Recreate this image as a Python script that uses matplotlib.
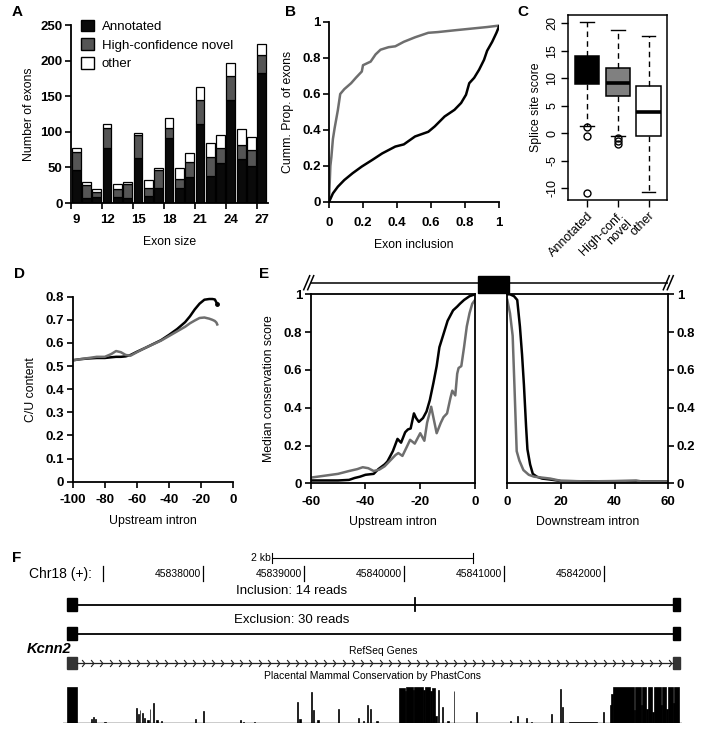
import matplotlib
matplotlib.use('Agg')
import matplotlib.pyplot as plt
import numpy as np
from matplotlib.patches import Patch, Rectangle
from matplotlib.path import Path

plt.rcParams['font.family'] = ['Liberation Sans', 'DejaVu Sans']
plt.rcParams['axes.unicode_minus'] = False

# ---------------- data ----------------
# Panel A
exon_sizes = list(range(9, 28))
annotated = [47, 7, 9, 77, 8, 7, 63, 10, 21, 91, 21, 36, 111, 38, 56, 144, 62, 52, 182]
hc_novel = [24, 18, 7, 28, 11, 19, 32, 11, 25, 15, 13, 21, 33, 26, 21, 34, 20, 22, 26]
other = [6, 4, 3, 6, 7, 4, 4, 11, 3, 14, 15, 13, 19, 20, 18, 18, 22, 18, 16]
legend_labels = ['Annotated', 'High-confidence novel', 'other']

# Panel B
b_hc_x = [0, 0.004, 0.008, 0.014, 0.023, 0.033, 0.052, 0.066, 0.09, 0.13, 0.158, 0.193, 0.2,
          0.245, 0.274, 0.303, 0.35, 0.39, 0.44, 0.506, 0.584, 0.64, 0.74, 0.835, 0.93, 1.0]
b_hc_y = [0, 0.1, 0.2, 0.25, 0.35, 0.41, 0.51, 0.6, 0.627, 0.66, 0.69, 0.725, 0.76,
          0.78, 0.82, 0.846, 0.86, 0.865, 0.89, 0.915, 0.94, 0.944, 0.954, 0.963, 0.972, 0.98]
b_ann_x = [0, 0.023, 0.052, 0.09, 0.139, 0.193, 0.255, 0.313, 0.39, 0.44, 0.506, 0.584, 0.622,
           0.68, 0.738, 0.777, 0.806, 0.825, 0.854, 0.883, 0.912, 0.93, 0.96, 0.985, 1.0]
b_ann_y = [0, 0.048, 0.085, 0.122, 0.16, 0.197, 0.234, 0.27, 0.308, 0.32, 0.364, 0.39, 0.42,
           0.475, 0.512, 0.55, 0.596, 0.66, 0.69, 0.735, 0.79, 0.84, 0.89, 0.94, 0.975]

# Panel C (box statistics)
c_labels = ['Annotated', 'High-conf.\nnovel', 'other']
c_q1 = [8.9, 6.7, -0.5]
c_med = [11.8, 9.1, 3.8]
c_q3 = [14.1, 11.8, 8.6]
c_whislo = [1.4, -0.4, -10.6]
c_whishi = [20.2, 18.7, 17.7]
c_fliers = [[1.2, -0.5, -10.9], [-0.9, -1.4, -1.9], []]
c_colors = ['#000000', '#808080', '#ffffff']

# Panel D
d_x = [-100, -95, -90, -85, -80, -76, -73, -70, -67, -64, -60, -55, -50, -45, -40, -35, -30,
       -27, -24, -21, -18, -15, -13, -11.5, -10.5, -10]
d_ann = [0.525, 0.53, 0.533, 0.535, 0.535, 0.538, 0.54, 0.54, 0.542, 0.548, 0.562, 0.578, 0.595,
         0.612, 0.635, 0.66, 0.69, 0.715, 0.745, 0.77, 0.787, 0.79, 0.79, 0.788, 0.775, 0.77]
d_hc = [0.525, 0.53, 0.535, 0.54, 0.54, 0.552, 0.565, 0.56, 0.548, 0.545, 0.56, 0.578, 0.594,
        0.61, 0.63, 0.65, 0.67, 0.685, 0.697, 0.708, 0.71, 0.705, 0.70, 0.695, 0.688, 0.68]

# Panel E
e_up_ann_x = [-60, -50, -46, -44, -42, -40, -37, -35.3, -33, -32, -30, -28.3, -27, -25.5, -24.5,
              -23.5, -22.3, -21.5, -20.5, -19, -17.7, -16.5, -15.2, -14, -13, -11.6, -10, -8,
              -6.5, -5.5, -4, -2, 0]
e_up_ann_y = [0.015, 0.015, 0.018, 0.028, 0.035, 0.045, 0.05, 0.075, 0.1, 0.115, 0.17, 0.235,
              0.215, 0.27, 0.285, 0.29, 0.37, 0.345, 0.325, 0.345, 0.38, 0.44, 0.53, 0.62, 0.72,
              0.785, 0.86, 0.915, 0.935, 0.95, 0.97, 0.99, 1.0]
e_up_hc_x = [-60, -55, -50, -46, -43, -41, -39, -37, -35, -33, -31, -29, -28, -26.5, -25, -23.7,
             -22, -20, -18.5, -17.5, -16, -14.5, -14, -12.5, -11.5, -10.2, -9, -8.3, -7.2, -6.5,
             -6, -5, -4, -3, -2, -1, 0]
e_up_hc_y = [0.03, 0.04, 0.05, 0.065, 0.075, 0.085, 0.08, 0.065, 0.072, 0.09, 0.12, 0.15, 0.16,
             0.145, 0.19, 0.23, 0.21, 0.265, 0.225, 0.32, 0.405, 0.3, 0.265, 0.32, 0.35, 0.37,
             0.45, 0.49, 0.465, 0.58, 0.61, 0.62, 0.72, 0.83, 0.9, 0.95, 0.97]
e_dn_ann_x = [0, 1, 2.5, 3.7, 4.7, 5.5, 6.2, 7, 7.5, 8.5, 9.5, 11, 13, 16, 20, 30, 40, 50, 60]
e_dn_ann_y = [1.0, 1.0, 0.99, 0.97, 0.83, 0.68, 0.52, 0.3, 0.18, 0.1, 0.05, 0.035, 0.025, 0.02,
              0.012, 0.01, 0.01, 0.01, 0.01]
e_dn_hc_x = [0, 1, 2, 2.7, 3.5, 4.5, 6, 8, 10, 13, 16, 20, 30, 40, 48, 50, 60]
e_dn_hc_y = [0.97, 0.9, 0.78, 0.5, 0.17, 0.12, 0.07, 0.045, 0.035, 0.03, 0.025, 0.013, 0.01,
             0.012, 0.015, 0.01, 0.01]

# Panel F (genome browser view)
f_ruler = [45837000, 45838000, 45839000, 45840000, 45841000, 45842000]
f_ruler_labels = ['', '45838000', '45839000', '45840000', '45841000', '45842000']
f_scale_start, f_scale_len = 45838690, 2000
f_exon1 = (45836640, 45836735)
f_exon3 = (45842686, 45842756)
f_alt_exon = 45840114
f_view = (45836600, 45842776)
cons_start = [45836640, 45836875, 45836898, 45836921, 45837011,
              45837328, 45837346, 45837364, 45837387, 45837410, 45837441, 45837464, 45837500,
              45837532, 45837577, 45837917, 45837998, 45838369, 45838392, 45838505,
              45838935, 45838958, 45839071, 45839094, 45839139, 45839343,
              45839546, 45839592, 45839637, 45839660, 45839727,
              45839954, 45840008, 45840022, 45840090, 45840103, 45840194, 45840212, 45840257,
              45840280, 45840316, 45840339, 45840384, 45840429, 45840497,
              45840723, 45841063, 45841131, 45841221, 45841267,
              45841470, 45841561, 45841583, 45841651, 45841991,
              45842059, 45842072, 45842091, 45842294, 45842308, 45842362, 45842376, 45842421,
              45842435, 45842480, 45842494, 45842561, 45842575, 45842620, 45842633, 45842688,
              45842701]
cons_len = [95, 14, 9, 9, 14,
            9, 9, 9, 9, 9, 14, 9, 9,
            14, 14, 9, 9, 9, 14, 14,
            9, 14, 9, 9, 14, 9,
            9, 14, 9, 9, 14,
            54, 14, 68, 14, 91, 18, 45, 23,
            27, 14, 9, 9, 23, 9,
            9, 9, 9, 9, 14,
            9, 9, 9, 272, 9,
            14, 18, 204, 14, 54, 14, 45, 14,
            45, 14, 68, 14, 45, 14, 54, 14,
            46]
cons_h = [1.0, 0.12, 0.18, 0.1, 0.03,
          0.42, 0.25, 0.35, 0.28, 0.15, 0.08, 0.4, 0.55,
          0.08, 0.05, 0.1, 0.33, 0.08, 0.04, 0.03,
          0.58, 0.12, 0.87, 0.35, 0.08, 0.4,
          0.15, 0.05, 0.5, 0.4, 0.05,
          0.98, 0.9, 1.0, 0.93, 1.0, 0.92, 1.0, 0.9,
          0.98, 0.2, 0.93, 0.45, 0.05, 0.88,
          0.3, 0.05, 0.2, 0.15, 0.04,
          0.25, 0.95, 0.45, 0.02, 0.3,
          0.5, 0.8, 1.0, 0.35, 1.0, 0.5, 1.0, 0.4,
          1.0, 0.3, 1.0, 0.5, 1.0, 0.4, 1.0, 0.55,
          1.0]

# ---------------- figure ----------------
W, H = 710, 732
fig = plt.figure(figsize=(W / 100, H / 100), dpi=100)


def rect(x0, y0, x1, y1):
    return [x0 / W, 1 - y1 / H, (x1 - x0) / W, (y1 - y0) / H]


TICK_FS = 9.5
LAB_FS = 8.8
DARK = '#000000'
GREY = '#6e6e6e'


def excel_style(ax, spines=('left', 'bottom')):
    for s in ['left', 'right', 'top', 'bottom']:
        ax.spines[s].set_visible(s in spines)
        ax.spines[s].set_linewidth(1.3)
    ax.tick_params(direction='out', length=4, width=1.2, labelsize=TICK_FS, pad=2)
    ax.tick_params(axis='x', pad=5)
    for lab in ax.get_xticklabels() + ax.get_yticklabels():
        lab.set_fontweight('bold')


def fmt(v):
    return '%g' % v


def panel_letter(x, y, t):
    fig.text(x / W, 1 - y / H, t, fontsize=11, fontweight='bold', ha='left', va='center')


# ----- Panel A -----
axA = fig.add_axes(rect(71, 25, 268, 203))
ann_arr = np.array(annotated)
hc_arr = np.array(hc_novel)
axA.bar(exon_sizes, annotated, width=0.85, color='#0a0a0a', edgecolor='black', lw=0.9)
axA.bar(exon_sizes, hc_novel, bottom=ann_arr, width=0.85, color='#555555', edgecolor='black', lw=0.9)
axA.bar(exon_sizes, other, bottom=ann_arr + hc_arr, width=0.85, color='white', edgecolor='black', lw=0.9)
axA.set_xlim(8.5, 27.6)
axA.set_ylim(0, 250)
axA.set_yticks(range(0, 251, 50))
axA.set_xticks(exon_sizes[::3])
axA.set_xticks([s - 0.5 for s in exon_sizes[::3]], minor=True)
excel_style(axA)
axA.tick_params(axis='x', which='major', length=0, pad=8)
axA.tick_params(axis='x', which='minor', length=4, width=1.2, direction='out')
axA.set_xlabel('Exon size', fontsize=LAB_FS, labelpad=7)
axA.set_ylabel('Number of exons', fontsize=LAB_FS, labelpad=4)
handles = [Patch(facecolor=c, edgecolor='black', lw=1) for c in ['#0a0a0a', '#555555', 'white']]
axA.legend(handles, legend_labels, loc='upper left', bbox_to_anchor=(0.05, 1.03), frameon=False,
           fontsize=9.5, handlelength=1.0, handleheight=1.0, handletextpad=0.6,
           labelspacing=0.4, borderpad=0, borderaxespad=0)
panel_letter(12, 12, 'A')

# ----- Panel B -----
axB = fig.add_axes(rect(329, 22, 499, 202))
axB.plot(b_hc_x, b_hc_y, color=GREY, lw=1.8)
axB.plot(b_ann_x, b_ann_y, color=DARK, lw=1.8)
axB.set_xlim(0, 1)
axB.set_ylim(0, 1)
ticks = [0, 0.2, 0.4, 0.6, 0.8, 1]
axB.set_xticks(ticks)
axB.set_xticklabels([fmt(t) for t in ticks])
axB.set_yticks(ticks)
axB.set_yticklabels([fmt(t) for t in ticks])
excel_style(axB)
axB.tick_params(axis='x', pad=7)
axB.set_xlabel('Exon inclusion', fontsize=LAB_FS, labelpad=7)
axB.set_ylabel('Cumm. Prop. of exons', fontsize=LAB_FS, labelpad=6)
panel_letter(285, 12, 'B')

# ----- Panel C -----
axC = fig.add_axes(rect(568, 15, 667, 200))
stats = []
for i in range(3):
    stats.append(dict(q1=c_q1[i], med=c_med[i], q3=c_q3[i], whislo=c_whislo[i],
                      whishi=c_whishi[i], fliers=c_fliers[i], label=c_labels[i]))
bp = axC.bxp(stats, positions=[1, 2, 3], widths=0.8, patch_artist=True, showfliers=True,
             boxprops=dict(edgecolor='black', lw=1.1),
             whiskerprops=dict(color='black', lw=1.0, linestyle=(0, (4, 3))),
             capprops=dict(color='black', lw=1.0),
             medianprops=dict(color='black', lw=2.6, solid_capstyle='butt'),
             flierprops=dict(marker='o', markerfacecolor='none', markeredgecolor='black',
                             markersize=5, markeredgewidth=1.0),
             capwidths=0.45)
for patch, col in zip(bp['boxes'], c_colors):
    patch.set_facecolor(col)
axC.set_xlim(0.38, 3.6)
axC.set_ylim(-12.1, 21.5)
axC.set_yticks(range(-10, 21, 5))
for s in axC.spines.values():
    s.set_linewidth(1.1)
axC.tick_params(direction='out', length=5, width=1.0, labelsize=9, pad=2)
for lab in axC.get_yticklabels():
    lab.set_rotation(90)
    lab.set_va('center')
axC.set_xticks([1, 2, 3])
axC.set_xticklabels(c_labels, rotation=45, ha='right', rotation_mode='anchor',
                    multialignment='right', fontsize=9, linespacing=0.95)
axC.set_ylabel('Splice site score', fontsize=LAB_FS, labelpad=3)
panel_letter(517, 12, 'C')

# ----- Panel D -----
axD = fig.add_axes(rect(72.7, 296.7, 233.3, 481.7))
axD.plot(d_x, d_ann, color=DARK, lw=1.8)
axD.plot(d_x, d_hc, color=GREY, lw=1.8)
axD.plot(d_x[-1:], d_ann[-1:], marker='o', color=DARK, ms=2.5)
axD.set_xlim(-100, 0)
axD.set_ylim(0, 0.8)
axD.set_xticks(range(-100, 1, 20))
yt = [0, 0.1, 0.2, 0.3, 0.4, 0.5, 0.6, 0.7, 0.8]
axD.set_yticks(yt)
axD.set_yticklabels([fmt(t) for t in yt])
excel_style(axD)
axD.set_xlabel('Upstream intron', fontsize=LAB_FS, labelpad=6)
axD.set_ylabel('C/U content', fontsize=LAB_FS, labelpad=6)
panel_letter(14, 274, 'D')

# ----- Panel E -----
axE1 = fig.add_axes(rect(310.7, 294.3, 475, 483.3))
axE1.plot(e_up_ann_x, e_up_ann_y, color=DARK, lw=1.8)
axE1.plot(e_up_hc_x, e_up_hc_y, color=GREY, lw=1.8)
axE1.set_xlim(-60, 0)
axE1.set_ylim(0, 1)
axE1.set_xticks(range(-60, 1, 20))
axE1.set_yticks(ticks)
axE1.set_yticklabels([fmt(t) for t in ticks])
excel_style(axE1, spines=('left', 'bottom', 'top', 'right'))
axE1.set_xlabel('Upstream intron', fontsize=LAB_FS, labelpad=6)
axE1.set_ylabel('Median conservation score', fontsize=LAB_FS, labelpad=6)

axE2 = fig.add_axes(rect(507.3, 294.3, 668.3, 483.3))
axE2.plot(e_dn_ann_x, e_dn_ann_y, color=DARK, lw=1.8)
axE2.plot(e_dn_hc_x, e_dn_hc_y, color=GREY, lw=1.8)
axE2.set_xlim(0, 60)
axE2.set_ylim(0, 1)
axE2.set_xticks(range(0, 61, 20))
axE2.set_yticks(ticks)
axE2.set_yticklabels([fmt(t) for t in ticks])
axE2.yaxis.tick_right()
excel_style(axE2, spines=('left', 'bottom', 'top', 'right'))
axE2.tick_params(axis='y', left=False, right=True)
axE2.set_xlabel('Downstream intron', fontsize=LAB_FS, labelpad=6)
panel_letter(259, 274, 'E')

# gene schematic above panel E
b1 = axE1.get_position()
b2 = axE2.get_position()
yl = 1 - 282.7 / H
fig.add_artist(plt.Line2D([b1.x0, b2.x1], [yl, yl], transform=fig.transFigure, color='black', lw=1.1))
for xc in (b1.x0 - 1 / W, b2.x1 + 1 / W):
    fig.add_artist(Rectangle((xc - 1.5 / W, yl - 4 / H), 3 / W, 8 / H, transform=fig.transFigure,
                             facecolor='white', edgecolor='none', zorder=3))
    for dx in (-3, 1):
        fig.add_artist(plt.Line2D([xc + (dx - 3) / W, xc + (dx + 3) / W], [yl - 7 / H, yl + 7 / H],
                                  transform=fig.transFigure, color='black', lw=1.1, zorder=4))
fig.add_artist(Rectangle((b1.x1 + 3 / W, yl - 10 / H), (b2.x0 - b1.x1 - 1.5 / W),
                         17 / H, transform=fig.transFigure, facecolor='black', edgecolor='black'))

# ----- Panel F -----
axF = fig.add_axes(rect(63, 545, 682, 732))
axF.set_xlim(*f_view)
axF.set_ylim(732, 545)
axF.axis('off')
panel_letter(12, 558, 'F')
# scale bar
axF.plot([f_scale_start, f_scale_start + f_scale_len], [558, 558], color='black', lw=0.8)
for xs in (f_scale_start, f_scale_start + f_scale_len):
    axF.plot([xs, xs], [553, 563], color='black', lw=0.8)
axF.text(f_scale_start - 20, 558, '2 kb', fontsize=7.5, ha='right', va='center')
# ruler
fig.text(29 / W, 1 - 574 / H, 'Chr18 (+):', fontsize=10, ha='left', va='center')
for pos, lab in zip(f_ruler, f_ruler_labels):
    axF.plot([pos, pos], [566, 581], color='black', lw=0.9)
    if lab:
        axF.text(pos - 20, 574, lab, fontsize=7.5, ha='right', va='center')
# junction reads
for (yc, text) in ((604.5, 'Inclusion: 14 reads'), (633.5, 'Exclusion: 30 reads')):
    axF.plot([f_exon1[1], f_exon3[0]], [yc, yc], color='black', lw=1.3)
    for ex in (f_exon1, f_exon3):
        axF.add_patch(Rectangle((ex[0], yc - 6.5), ex[1] - ex[0], 13, facecolor='black',
                                edgecolor='black'))
    axF.text(45838880, yc - 13.5, text, fontsize=9.5, ha='center', va='center')
axF.plot([f_alt_exon, f_alt_exon], [598, 611], color='black', lw=1.3)
# RefSeq gene
fig.text(27 / W, 1 - 649 / H, 'Kcnn2', fontsize=10.5, style='italic', fontweight='bold',
         ha='left', va='center')
axF.text(45839795, 651, 'RefSeq Genes', fontsize=7.5, ha='center', va='center')
axF.plot([f_exon1[1], f_exon3[0]], [663, 663], color='#222222', lw=0.9)
chev = Path([(-0.4, 1), (0.4, 0), (-0.4, -1)], [Path.MOVETO, Path.LINETO, Path.LINETO])
cx = np.arange(f_exon1[1] + 60, f_exon3[0] - 30, 93)
axF.plot(cx, np.full(len(cx), 663), ls='none', marker=chev, ms=5, mfc='none', mec='#222222', mew=0.8)
for ex in (f_exon1, f_exon3):
    axF.add_patch(Rectangle((ex[0], 657), ex[1] - ex[0], 12, facecolor='#333333', edgecolor='#333333'))
axF.text(45839685, 676, 'Placental Mammal Conservation by PhastCons', fontsize=7.5,
         ha='center', va='center')

axCons = fig.add_axes(rect(63, 687, 682, 723))
axCons.bar(cons_start, cons_h, width=cons_len, align='edge', color='black', edgecolor='black', lw=0.5)
axCons.axhline(0, color='black', lw=1.0)
axCons.set_xlim(*f_view)
axCons.set_ylim(0, 1)
axCons.axis('off')

fig.savefig('out.png', dpi=100)
